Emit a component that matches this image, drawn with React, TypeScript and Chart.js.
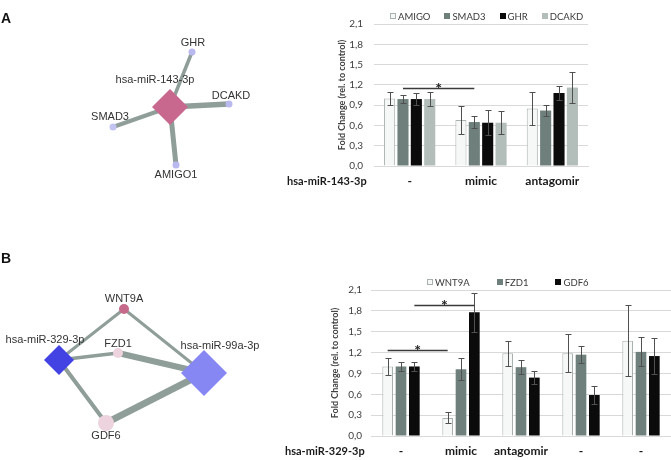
import React, { useEffect, useRef } from 'react';
import { Chart, registerables } from 'chart.js';

Chart.register(...registerables);

// ---------------- Panel A: bar chart data ----------------
const groupsA = ['-', 'mimic', 'antagomir'];
const rowLabelA = 'hsa-miR-143-3p';
const amigoA = [1.0, 0.68, 0.85];
const amigoErrA = [0.1, 0.2, 0.24];
const smad3A = [0.99, 0.65, 0.82];
const smad3ErrA = [0.06, 0.085, 0.08];
const ghrA = [0.99, 0.64, 1.08];
const ghrErrA = [0.095, 0.185, 0.1];
const dcakdA = [0.99, 0.64, 1.16];
const dcakdErrA = [0.1, 0.17, 0.23];
const sigA = [{ from: [0, 1], to: [1, 1], y: 1.16, mark: '*' }];

// ---------------- Panel B: bar chart data ----------------
const groupsB = ['-', 'mimic', 'antagomir', '-', '-'];
const rowLabelB = 'hsa-miR-329-3p';
const wnt9aB = [1.0, 0.26, 1.19, 1.19, 1.37];
const wnt9aErrB = [0.12, 0.08, 0.18, 0.27, 0.51];
const fzd1B = [1.0, 0.96, 0.99, 1.17, 1.21];
const fzd1ErrB = [0.06, 0.16, 0.1, 0.12, 0.21];
const gdf6B = [1.0, 1.78, 0.84, 0.59, 1.15];
const gdf6ErrB = [0.06, 0.28, 0.09, 0.13, 0.26];
const sigB = [
  { from: [0, 0], to: [1, 0], y: 1.24, mark: '*' },
  { from: [0, 2], to: [1, 2], y: 1.88, mark: '*' },
];

const yTickValues = [0, 0.3, 0.6, 0.9, 1.2, 1.5, 1.8, 2.1];
const yTitle = 'Fold Change (rel. to control)';

// ---------------- Networks (layout coordinates) ----------------
const netNodesA = [
  { id: 'hsa-miR-143-3p', x: 170, y: 107, kind: 'mirna' },
  { id: 'GHR', x: 192, y: 52, kind: 'gene' },
  { id: 'DCAKD', x: 229, y: 104, kind: 'gene' },
  { id: 'SMAD3', x: 113, y: 127, kind: 'gene' },
  { id: 'AMIGO1', x: 176, y: 165, kind: 'gene' },
];
const netEdgesA = [
  { s: 'hsa-miR-143-3p', t: 'GHR', w: 3.5 },
  { s: 'hsa-miR-143-3p', t: 'DCAKD', w: 5.5 },
  { s: 'hsa-miR-143-3p', t: 'SMAD3', w: 4 },
  { s: 'hsa-miR-143-3p', t: 'AMIGO1', w: 5 },
];
const netNodesB = [
  { id: 'hsa-miR-329-3p', x: 59, y: 120, kind: 'mirna' },
  { id: 'WNT9A', x: 124, y: 69, kind: 'gene' },
  { id: 'FZD1', x: 118, y: 113, kind: 'gene' },
  { id: 'hsa-miR-99a-3p', x: 204, y: 133, kind: 'mirna' },
  { id: 'GDF6', x: 106, y: 183, kind: 'gene' },
];
const netEdgesB = [
  { s: 'hsa-miR-329-3p', t: 'WNT9A', w: 3 },
  { s: 'hsa-miR-329-3p', t: 'FZD1', w: 3.5 },
  { s: 'hsa-miR-329-3p', t: 'GDF6', w: 4 },
  { s: 'WNT9A', t: 'hsa-miR-99a-3p', w: 3 },
  { s: 'FZD1', t: 'hsa-miR-99a-3p', w: 6 },
  { s: 'GDF6', t: 'hsa-miR-99a-3p', w: 7 },
];

// node styles (size, color, label offset)
const nodeStyle: Record<string, { r: number; color: string; dx: number; dy: number }> = {
  'hsa-miR-143-3p': { r: 18, color: '#c8688e', dx: -15, dy: -27 },
  GHR: { r: 3.5, color: '#b9b9f0', dx: 1, dy: -9 },
  DCAKD: { r: 3.5, color: '#b9b9f0', dx: 2, dy: -8 },
  SMAD3: { r: 3.5, color: '#c4c4f2', dx: -3, dy: -10 },
  AMIGO1: { r: 3.5, color: '#b9b9f0', dx: 0, dy: 10 },
  'hsa-miR-329-3p': { r: 15, color: '#4343e4', dx: -14, dy: -20 },
  WNT9A: { r: 5, color: '#c56a8b', dx: 0, dy: -10 },
  FZD1: { r: 5, color: '#ecd3de', dx: 0, dy: -9 },
  'hsa-miR-99a-3p': { r: 23, color: '#8787f3', dx: 16, dy: -27 },
  GDF6: { r: 8, color: '#ecd3de', dx: 0, dy: 13 },
};

const FONT = 'Lato, "Open Sans", sans-serif';
const NET_FONT = '"Liberation Sans", Arial, sans-serif';

// ---------------- plugins ----------------
const errorBarsPlugin = {
  id: 'errorBars',
  afterDatasetsDraw(chart: any) {
    const { ctx } = chart;
    const ys = chart.scales.y;
    chart.data.datasets.forEach((ds: any, di: number) => {
      if (!ds.errors) return;
      const meta = chart.getDatasetMeta(di);
      meta.data.forEach((bar: any, i: number) => {
        const v = ds.data[i];
        const e = ds.errors[i];
        const x = Math.round(bar.x) + 0.5;
        const top = Math.round(ys.getPixelForValue(v + e)) + 0.5;
        const bot = Math.round(ys.getPixelForValue(v - e)) + 0.5;
        ctx.save();
        ctx.strokeStyle = '#505050';
        ctx.lineWidth = 1;
        ctx.beginPath();
        ctx.moveTo(x, top);
        ctx.lineTo(x, bot);
        ctx.moveTo(x - 3, top);
        ctx.lineTo(x + 3, top);
        ctx.moveTo(x - 3, bot);
        ctx.lineTo(x + 3, bot);
        ctx.stroke();
        ctx.restore();
      });
    });
  },
};

const decorPlugin = {
  id: 'decor',
  afterDraw(chart: any, _args: any, opts: any) {
    const { ctx, chartArea } = chart;
    const ys = chart.scales.y;
    ctx.save();
    // legend row
    ctx.font = `9.5px ${FONT}`;
    ctx.textBaseline = 'middle';
    ctx.textAlign = 'left';
    let lx = chartArea.left + opts.legendStart;
    const ly = Math.round(chartArea.top - opts.legendDy);
    chart.data.datasets.forEach((ds: any) => {
      ctx.fillStyle = ds.backgroundColor;
      ctx.fillRect(Math.round(lx), ly - 3, 6, 6);
      if (ds.borderWidth) {
        ctx.strokeStyle = ds.borderColor;
        ctx.lineWidth = 1;
        ctx.strokeRect(Math.round(lx) + 0.5, ly - 2.5, 5, 5);
      }
      ctx.fillStyle = '#3a3a3a';
      ctx.fillText(ds.label, lx + 8, ly + 0.5);
      lx += 8 + ctx.measureText(ds.label).width + opts.legendGap;
    });
    // row label
    ctx.font = `bold 11px ${FONT}`;
    ctx.fillStyle = '#1a1a1a';
    ctx.textBaseline = 'middle';
    ctx.fillText(opts.rowLabel, opts.rowLabelX, chartArea.bottom + 15.2);
    // significance
    (opts.sig || []).forEach((s: any) => {
      const a = chart.getDatasetMeta(s.from[1]).data[s.from[0]];
      const b = chart.getDatasetMeta(s.to[1]).data[s.to[0]];
      const y = Math.round(ys.getPixelForValue(s.y)) + 0.5;
      ctx.strokeStyle = '#3a3a3a';
      ctx.lineWidth = 1.5;
      ctx.beginPath();
      ctx.moveTo(a.x, y);
      ctx.lineTo(b.x, y);
      ctx.stroke();
      ctx.fillStyle = '#222';
      ctx.font = `bold 16px ${FONT}`;
      ctx.textAlign = 'center';
      ctx.textBaseline = 'alphabetic';
      ctx.fillText(s.mark, (a.x + b.x) / 2, y + 5);
      ctx.textAlign = 'left';
    });
    ctx.restore();
  },
};

const networkPlugin = {
  id: 'netLabels',
  afterDatasetsDraw(chart: any, _a: any, opts: any) {
    const { ctx } = chart;
    const xs = chart.scales.x;
    const ys = chart.scales.y;
    ctx.save();
    ctx.font = `11px ${NET_FONT}`;
    ctx.fillStyle = '#333';
    ctx.textAlign = 'center';
    ctx.textBaseline = 'middle';
    (opts.nodes || []).forEach((n: any) => {
      const st = nodeStyle[n.id];
      ctx.fillText(n.id, xs.getPixelForValue(n.x) + st.dx, ys.getPixelForValue(n.y) + st.dy);
    });
    ctx.font = `bold 14px ${NET_FONT}`;
    ctx.fillStyle = '#111';
    ctx.textAlign = 'left';
    ctx.textBaseline = 'alphabetic';
    ctx.fillText(opts.panel, 1, 23);
    ctx.restore();
  },
};

// ---------------- config builders ----------------
const seriesColors = [
  { backgroundColor: '#f6f8f7', borderColor: '#a8b1ae', borderWidth: 1 },
  { backgroundColor: '#6f807c', borderColor: '#6f807c', borderWidth: 0 },
  { backgroundColor: '#0b0b0b', borderColor: '#0b0b0b', borderWidth: 0 },
  { backgroundColor: '#b3bdba', borderColor: '#b3bdba', borderWidth: 0 },
];

function barConfig(p: any) {
  return {
    type: 'bar',
    data: {
      labels: p.labels,
      datasets: p.series.map((s: any, i: number) => ({
        label: s.label,
        data: s.data,
        errors: s.errors,
        ...seriesColors[i],
        barPercentage: p.barPct,
        categoryPercentage: p.catPct,
      })),
    },
    options: {
      responsive: false,
      animation: false,
      events: [],
      layout: { autoPadding: false, padding: { top: p.padTop, right: p.padRight, left: 0, bottom: 0 } },
      plugins: {
        legend: { display: false },
        tooltip: { enabled: false },
        decor: {
          legendStart: p.legendStart,
          legendGap: p.legendGap,
          legendDy: 8,
          rowLabel: p.rowLabel,
          rowLabelX: p.rowLabelX,
          sig: p.sig,
        },
      },
      scales: {
        x: {
          grid: { display: false, drawTicks: false },
          border: { display: true, color: '#d9d9d9', width: 1 },
          ticks: {
            padding: 8,
            color: '#1a1a1a',
            autoSkip: false,
            maxRotation: 0,
            minRotation: 0,
            font: { family: FONT, size: 12, weight: 'bold' },
          },
          afterFit: (s: any) => { s.height = p.xHeight; },
        },
        y: {
          min: 0,
          max: 2.1,
          afterBuildTicks: (s: any) => { s.ticks = yTickValues.map((v) => ({ value: v })); },
          grid: { color: '#d9d9d9', drawTicks: false, lineWidth: 1 },
          border: { display: false },
          ticks: {
            padding: p.tickPad,
            color: '#404040',
            font: { family: FONT, size: 10 },
            callback: (v: number) => v.toFixed(1).replace('.', ','),
          },
          title: {
            display: true,
            text: yTitle,
            color: '#404040',
            font: { family: FONT, size: 9, weight: 'bold' },
            padding: { top: p.titlePad, bottom: 0 },
          },
          afterFit: (s: any) => { s.width = p.yWidth; },
        },
      },
    },
    plugins: [errorBarsPlugin, decorPlugin],
  };
}

function netConfig(nodes: any[], edges: any[], w: number, h: number, panel: string) {
  const pos: Record<string, any> = {};
  nodes.forEach((n) => { pos[n.id] = n; });
  const nodeDs = {
    type: 'scatter',
    data: nodes.map((n) => ({ x: n.x, y: n.y })),
    pointStyle: nodes.map((n) => (n.kind === 'mirna' ? 'rectRot' : 'circle')),
    pointRadius: nodes.map((n) => nodeStyle[n.id].r),
    backgroundColor: nodes.map((n) => nodeStyle[n.id].color),
    borderWidth: 0,
    order: 0,
    clip: false,
  };
  const edgeDs = edges.map((e) => ({
    type: 'line',
    data: [
      { x: pos[e.s].x, y: pos[e.s].y },
      { x: pos[e.t].x, y: pos[e.t].y },
    ],
    borderColor: '#8f9e98',
    borderWidth: e.w,
    pointRadius: 0,
    order: 1,
    clip: false,
  }));
  return {
    type: 'scatter',
    data: { datasets: [nodeDs, ...edgeDs] },
    options: {
      responsive: false,
      animation: false,
      events: [],
      layout: { autoPadding: false, padding: 0 },
      plugins: {
        legend: { display: false },
        tooltip: { enabled: false },
        netLabels: { nodes, panel },
      },
      scales: {
        x: { type: 'linear', min: 0, max: w, display: false },
        y: { type: 'linear', min: 0, max: h, reverse: true, display: false },
      },
    },
    plugins: [networkPlugin],
  };
}

function ChartCanvas({ config, left, top, width, height }: any) {
  const ref = useRef<HTMLCanvasElement>(null);
  useEffect(() => {
    const chart = new Chart(ref.current as HTMLCanvasElement, config as any);
    return () => chart.destroy();
  }, []);
  return (
    <canvas
      ref={ref}
      width={width}
      height={height}
      style={{ position: 'absolute', left, top, width, height }}
    />
  );
}

export default function App() {
  const cfgA = barConfig({
    labels: groupsA,
    series: [
      { label: 'AMIGO', data: amigoA, errors: amigoErrA },
      { label: 'SMAD3', data: smad3A, errors: smad3ErrA },
      { label: 'GHR', data: ghrA, errors: ghrErrA },
      { label: 'DCAKD', data: dcakdA, errors: dcakdErrA },
    ],
    barPct: 0.83,
    catPct: 0.75,
    padTop: 24,
    padRight: 12,
    xHeight: 34,
    yWidth: 94,
    titlePad: 56.6,
    tickPad: 11,
    legendStart: 16,
    legendGap: 14,
    rowLabel: rowLabelA,
    rowLabelX: 7,
    sig: sigA,
  });
  const cfgB = barConfig({
    labels: groupsB,
    series: [
      { label: 'WNT9A', data: wnt9aB, errors: wnt9aErrB },
      { label: 'FZD1', data: fzd1B, errors: fzd1ErrB },
      { label: 'GDF6', data: gdf6B, errors: gdf6ErrB },
    ],
    barPct: 0.8,
    catPct: 0.667,
    padTop: 50,
    padRight: 0,
    xHeight: 24,
    yWidth: 91,
    titlePad: 49.6,
    tickPad: 9,
    legendStart: 56,
    legendGap: 27,
    rowLabel: rowLabelB,
    rowLabelX: 5,
    sig: sigB,
  });
  const netA = netConfig(netNodesA, netEdgesA, 280, 235, 'A');
  const netB = netConfig(netNodesB, netEdgesB, 280, 220, 'B');
  return (
    <div style={{ position: 'absolute', left: 0, top: 0, width: 671, height: 460, background: '#fff', overflow: 'hidden' }}>
      <ChartCanvas config={netA} left={0} top={0} width={280} height={235} />
      <ChartCanvas config={netB} left={0} top={240} width={280} height={220} />
      <ChartCanvas config={cfgA} left={280} top={0} width={320} height={200} />
      <ChartCanvas config={cfgB} left={280} top={240} width={391} height={220} />
    </div>
  );
}
